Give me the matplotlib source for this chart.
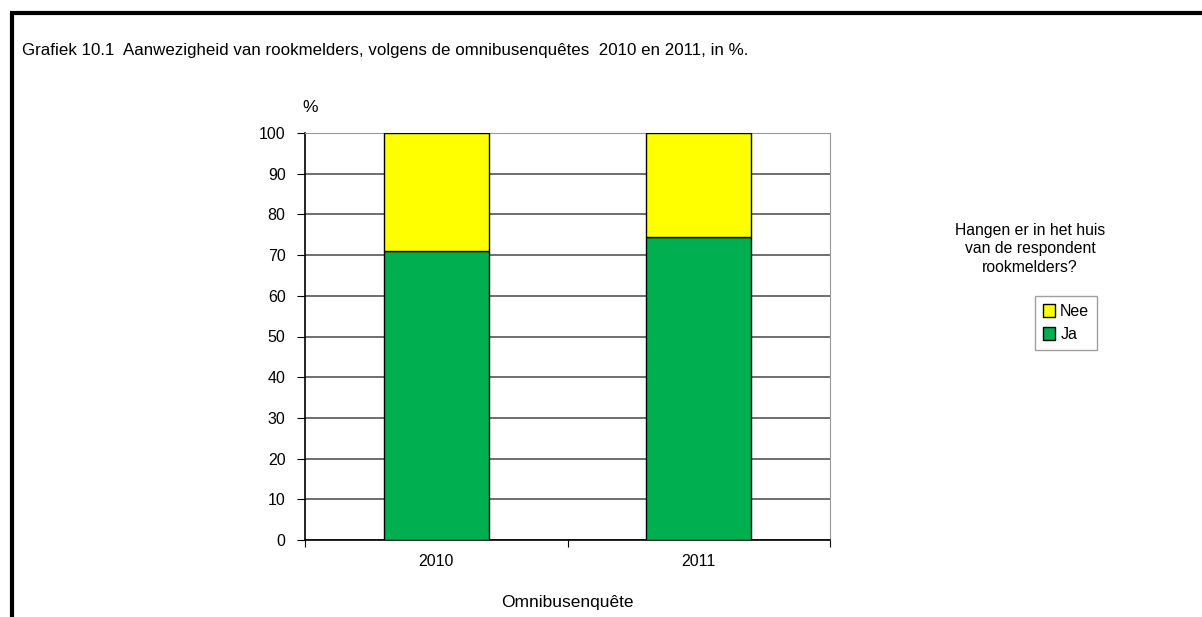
import matplotlib
matplotlib.use("Agg")
import matplotlib.pyplot as plt
from matplotlib.patches import Patch

# gegevens
jaren = ["2010", "2011"]
ja = [71.1, 74.4]
nee = [28.9, 25.6]

plt.rcParams['font.family'] = ['Liberation Sans', 'DejaVu Sans']

fig = plt.figure(figsize=(12.02, 6.17), dpi=100)
W, H = 1202, 617

# zwarte rand links en boven
fig.add_artist(plt.Line2D([11.5 / W, 11.5 / W], [0, 1 - 12.5 / H], color='black', lw=3,
                          transform=fig.transFigure, solid_capstyle='butt'))
fig.add_artist(plt.Line2D([10 / W, 1], [1 - 12.5 / H, 1 - 12.5 / H], color='black', lw=3,
                          transform=fig.transFigure, solid_capstyle='butt'))

fig.text(22 / W, 1 - 50 / H, "Grafiek 10.1  Aanwezigheid van rookmelders, volgens de omnibusenquêtes  2010 en 2011, in %.",
         fontsize=12.2, va='center', ha='left')

ax = fig.add_axes([305 / W, 1 - 540 / H, 525 / W, 407 / H])
x = range(len(jaren))
ax.bar(x, ja, width=0.4, color='#00B050', edgecolor='black', lw=1, label='Ja', zorder=3)
ax.bar(x, nee, bottom=ja, width=0.4, color='#FFFF00', edgecolor='black', lw=1, label='Nee', zorder=3)

ax.set_xlim(-0.5, 1.5)
ax.set_ylim(0, 100)
ax.set_yticks(range(0, 101, 10))
ax.yaxis.grid(True, color='#555555', lw=1.2, zorder=0)
ax.set_xticks([-0.5, 0.5, 1.5])
ax.set_xticklabels([])
ax.set_xticks(list(x), minor=True)
ax.set_xticklabels(jaren, minor=True)
ax.tick_params(axis='x', which='minor', length=0, pad=10, labelsize=11.5)
ax.tick_params(axis='x', which='major', length=5, direction='out')
ax.tick_params(axis='y', length=6, direction='out', labelsize=11.5, pad=8)

for side in ['top', 'right']:
    ax.spines[side].set_color('#999999')
for side in ['left', 'bottom']:
    ax.spines[side].set_color('black')
    ax.spines[side].set_linewidth(1.2)

fig.text(310 / W, 1 - 108 / H, "%", fontsize=12.5, ha='center', va='center')

fig.text(567 / W, 1 - 603 / H, "Omnibusenquête", fontsize=12.5, ha='center', va='center')

fig.text(1030 / W, 1 - 249 / H, "Hangen er in het huis\nvan de respondent\nrookmelders?", fontsize=11.3,
         ha='center', va='center', linespacing=1.3)

handles = [Patch(facecolor='#FFFF00', edgecolor='black'), Patch(facecolor='#00B050', edgecolor='black')]
leg = fig.legend(handles, ['Nee', 'Ja'], loc='center', bbox_to_anchor=(1066 / W, 1 - 323 / H),
                 fontsize=11.5, frameon=True, fancybox=False, handlelength=0.8, handleheight=0.8,
                 handletextpad=0.3, borderpad=0.5, labelspacing=0.5, borderaxespad=0)
leg.get_frame().set_edgecolor('#888888')
leg.get_frame().set_linewidth(1)

fig.savefig("out.png", dpi=100)
